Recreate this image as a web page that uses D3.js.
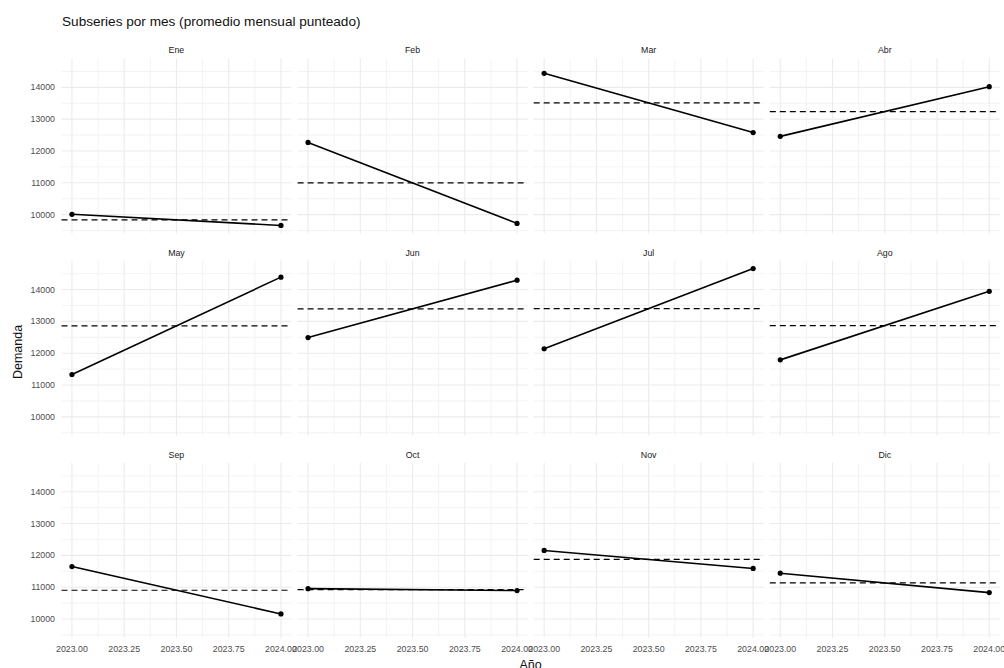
<!DOCTYPE html>
<html>
<head>
<meta charset="utf-8">
<script src="https://cdn.jsdelivr.net/npm/d3@7"></script>
<style>
  html, body { margin: 0; padding: 0; background: #fff; }
  svg { display: block; font-family: "Liberation Sans", Arial, sans-serif; }
</style>
</head>
<body>
<svg id="chart" width="1004" height="668"></svg>
<script>
// Monthly demand, one small panel per month, two years each.
const months = ["Ene", "Feb", "Mar", "Abr", "May", "Jun", "Jul", "Ago", "Sep", "Oct", "Nov", "Dic"];
const years = [2023, 2024];
const demand2023 = [10010, 12270, 14440, 12460, 11330, 12490, 12140, 11790, 11650, 10955, 12155, 11440];
const demand2024 = [9660, 9725, 12580, 14020, 14390, 14295, 14660, 13945, 10160, 10895, 11590, 10830];
const xTicks = [2023, 2023.25, 2023.5, 2023.75, 2024];
const xMinor = [2023.125, 2023.375, 2023.625, 2023.875];
const yTicks = [10000, 11000, 12000, 13000, 14000];
const yMinor = [9500, 10500, 11500, 12500, 13500, 14500];

const svg = d3.select("#chart");

// facet grid geometry
const nCols = 4;
const panelW = 229.9, panelH = 175;
const left0 = 61.5, top0 = 58.4;
const colStep = 236.1, rowStep = 202.2;

// shared (fixed) scales, padded 5% each side like the usual facet defaults
const xPad = (years[1] - years[0]) * 0.05;
const x = d3.scaleLinear().domain([years[0] - xPad, years[1] + xPad]).range([0, panelW]);
const allVals = demand2023.concat(demand2024);
const [vMin, vMax] = d3.extent(allVals);
const yPad = (vMax - vMin) * 0.05;
const y = d3.scaleLinear().domain([vMin - yPad, vMax + yPad]).range([panelH, 0]);

const gridColor = "#ebebeb";
const tickColor = "#4d4d4d";
const fs = 8.8;

// title
svg.append("text")
  .attr("x", 62).attr("y", 26)
  .attr("font-size", 13.6).attr("fill", "#111")
  .text("Subseries por mes (promedio mensual punteado)");

const lineGen = d3.line().x(d => x(d.year)).y(d => y(d.value));

months.forEach((m, i) => {
  const col = i % nCols, row = Math.floor(i / nCols);
  const g = svg.append("g")
    .attr("transform", `translate(${left0 + col * colStep},${top0 + row * rowStep})`);

  // minor grid
  g.selectAll(".xm").data(xMinor).join("line")
    .attr("x1", d => x(d)).attr("x2", d => x(d)).attr("y1", 0).attr("y2", panelH)
    .attr("stroke", gridColor).attr("stroke-width", 0.6);
  g.selectAll(".ym").data(yMinor).join("line")
    .attr("x1", 0).attr("x2", panelW).attr("y1", d => y(d)).attr("y2", d => y(d))
    .attr("stroke", gridColor).attr("stroke-width", 0.6);
  // major grid
  g.selectAll(".xM").data(xTicks).join("line")
    .attr("x1", d => x(d)).attr("x2", d => x(d)).attr("y1", 0).attr("y2", panelH)
    .attr("stroke", gridColor).attr("stroke-width", 1.1);
  g.selectAll(".yM").data(yTicks).join("line")
    .attr("x1", 0).attr("x2", panelW).attr("y1", d => y(d)).attr("y2", d => y(d))
    .attr("stroke", gridColor).attr("stroke-width", 1.1);

  // strip label
  g.append("text")
    .attr("x", panelW / 2).attr("y", -5)
    .attr("text-anchor", "middle").attr("font-size", fs).attr("fill", "#1a1a1a")
    .text(m);

  const pts = [
    { year: years[0], value: demand2023[i] },
    { year: years[1], value: demand2024[i] }
  ];
  const avg = d3.mean(pts, d => d.value);

  // monthly mean (dashed)
  g.append("line")
    .attr("x1", 0).attr("x2", panelW).attr("y1", y(avg)).attr("y2", y(avg))
    .attr("stroke", "#000").attr("stroke-width", 1.2)
    .attr("stroke-dasharray", "6,4");

  // series line and points
  g.append("path").datum(pts)
    .attr("d", lineGen).attr("fill", "none")
    .attr("stroke", "#000").attr("stroke-width", 1.6);
  g.selectAll(".pt").data(pts).join("circle")
    .attr("cx", d => x(d.year)).attr("cy", d => y(d.value)).attr("r", 2.6)
    .attr("fill", "#000");

  // y tick labels on the first column
  if (col === 0) {
    g.selectAll(".yl").data(yTicks).join("text")
      .attr("x", -6.5).attr("y", d => y(d)).attr("dy", "0.35em")
      .attr("text-anchor", "end").attr("font-size", fs).attr("fill", tickColor)
      .text(d => d3.format("d")(d));
  }
  // x tick labels on the bottom row
  if (row === 2) {
    g.selectAll(".xl").data(xTicks).join("text")
      .attr("x", d => x(d)).attr("y", panelH + 14.5)
      .attr("text-anchor", "middle").attr("font-size", fs).attr("fill", tickColor)
      .text(d => d3.format(".2f")(d));
  }
});

// axis titles
svg.append("text")
  .attr("x", 530.5).attr("y", 669)
  .attr("text-anchor", "middle").attr("font-size", 12.5).attr("fill", "#111")
  .text("Año");
svg.append("text")
  .attr("transform", "translate(22,352) rotate(-90)")
  .attr("text-anchor", "middle").attr("font-size", 12.5).attr("fill", "#111")
  .text("Demanda");
</script>
</body>
</html>
